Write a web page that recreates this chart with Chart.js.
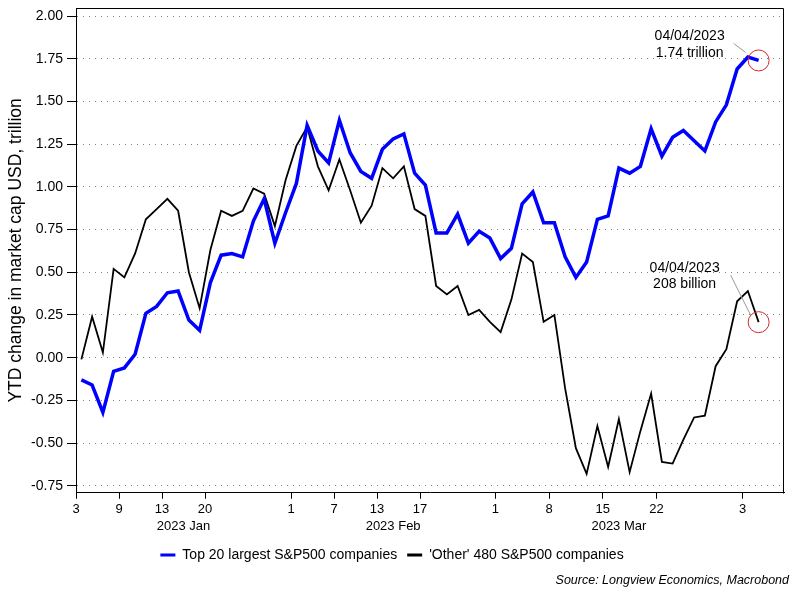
<!DOCTYPE html>
<html lang="en">
<head>
  <meta charset="UTF-8" />
  <title>Top 20 vs other S&P500 companies - YTD market cap change</title>
  <script src="https://cdn.jsdelivr.net/npm/chart.js"></script>
  <style>
    html, body { margin: 0; padding: 0; background: #fff; }
    #wrap { width: 800px; height: 600px; position: relative; }
  </style>
</head>
<body>
<div id="wrap"><canvas id="capChart"></canvas></div>

<script>
  // Trading days, 3 Jan - 4 Apr 2023
  const tradingDays = [
    '2023-01-03','2023-01-04','2023-01-05','2023-01-06','2023-01-09','2023-01-10','2023-01-11','2023-01-12',
    '2023-01-13','2023-01-17','2023-01-18','2023-01-19','2023-01-20','2023-01-23','2023-01-24','2023-01-25',
    '2023-01-26','2023-01-27','2023-01-30','2023-01-31',
    '2023-02-01','2023-02-02','2023-02-03','2023-02-06','2023-02-07','2023-02-08','2023-02-09','2023-02-10',
    '2023-02-13','2023-02-14','2023-02-15','2023-02-16','2023-02-17','2023-02-21','2023-02-22','2023-02-23',
    '2023-02-24','2023-02-27','2023-02-28',
    '2023-03-01','2023-03-02','2023-03-03','2023-03-06','2023-03-07','2023-03-08','2023-03-09','2023-03-10',
    '2023-03-13','2023-03-14','2023-03-15','2023-03-16','2023-03-17','2023-03-20','2023-03-21','2023-03-22',
    '2023-03-23','2023-03-24','2023-03-27','2023-03-28','2023-03-29','2023-03-30','2023-03-31',
    '2023-04-03','2023-04-04'
  ];

  // YTD change in market cap, USD trillion
  const top20 = [
    -0.13, -0.16, -0.32, -0.08, -0.06, 0.02, 0.26, 0.30, 0.38, 0.39, 0.22, 0.16, 0.44, 0.60, 0.61, 0.59,
    0.80, 0.93, 0.67, 0.85, 1.02, 1.36, 1.21, 1.14, 1.39, 1.20, 1.09, 1.05, 1.22, 1.28, 1.31, 1.08,
    1.01, 0.73, 0.73, 0.84, 0.67, 0.74, 0.70, 0.58, 0.64, 0.90, 0.97, 0.79, 0.79, 0.59, 0.47, 0.56,
    0.81, 0.83, 1.11, 1.08, 1.12, 1.34, 1.18, 1.29, 1.33, 1.27, 1.21, 1.38, 1.48, 1.69, 1.76, 1.74
  ];
  const other480 = [
    -0.01, 0.24, 0.03, 0.52, 0.47, 0.61, 0.81, 0.87, 0.93, 0.86, 0.50, 0.29, 0.63, 0.86, 0.83, 0.86,
    0.99, 0.96, 0.77, 1.04, 1.24, 1.35, 1.12, 0.98, 1.16, 0.98, 0.79, 0.89, 1.11, 1.05, 1.12, 0.87,
    0.83, 0.42, 0.37, 0.42, 0.25, 0.28, 0.21, 0.15, 0.34, 0.61, 0.56, 0.21, 0.25, -0.18, -0.53, -0.68,
    -0.40, -0.64, -0.36, -0.67, -0.43, -0.21, -0.61, -0.62, -0.48, -0.35, -0.34, -0.05, 0.05, 0.33, 0.39, 0.208
  ];

  const seriesNames = ['Top 20 largest S&P500 companies', "'Other' 480 S&P500 companies"];

  // axis labels
  const yTicks = [-0.75, -0.5, -0.25, 0, 0.25, 0.5, 0.75, 1, 1.25, 1.5, 1.75, 2];
  const tickDates = ['2023-01-03','2023-01-09','2023-01-13','2023-01-20','2023-02-01','2023-02-07',
                     '2023-02-13','2023-02-17','2023-03-01','2023-03-08','2023-03-15','2023-03-22','2023-04-03'];
  const monthKeys = ['2023-01', '2023-02', '2023-03'];
  const monthLabels = ['2023 Jan', '2023 Feb', '2023 Mar'];

  const FONT = 'Arial, "Liberation Sans", sans-serif';
  Chart.defaults.font.family = FONT;
  Chart.defaults.color = '#000';

  // day index -> x value (points sit in the middle of their day)
  const tickIdx = tickDates.map(d => tradingDays.indexOf(d));
  const monthCenters = monthKeys.map(m => {
    const first = tradingDays.findIndex(d => d.startsWith(m));
    let last = first;
    while (last + 1 < tradingDays.length && tradingDays[last + 1].startsWith(m)) last++;
    return (first + last + 1) / 2;
  });
  const xMax = 65.86;
  const toPoints = arr => arr.map((v, i) => ({ x: i + 0.5, y: v }));

  function fmtDate(iso) {
    const [y, m, d] = iso.split('-');
    return d + '/' + m + '/' + y;
  }
  function fmtValue(v) {
    return v >= 1 ? v.toFixed(2) + ' trillion' : Math.round(v * 1000) + ' billion';
  }

  // red circle + label on last point of each line
  const callouts = [
    { dataset: 0, textDx: -69, textDy: [-24, -7.5], from: [-25, -17], to: [-13, -8] },
    { dataset: 1, textDx: -74, textDy: [-54.5, -38.5], from: [-28, -47], to: [-8, -7] }
  ];

  const calloutPlugin = {
    id: 'callouts',
    afterDatasetsDraw(chart) {
      const ctx = chart.ctx;
      callouts.forEach(c => {
        const meta = chart.getDatasetMeta(c.dataset);
        const pt = meta.data[meta.data.length - 1];
        const pts = chart.data.datasets[c.dataset].data;
        const lines = [fmtDate(tradingDays[pts.length - 1]), fmtValue(pts[pts.length - 1].y)];
        ctx.save();
        ctx.lineWidth = 1;
        ctx.strokeStyle = '#999';
        ctx.beginPath();
        ctx.moveTo(pt.x + c.from[0], pt.y + c.from[1]);
        ctx.lineTo(pt.x + c.to[0], pt.y + c.to[1]);
        ctx.stroke();
        ctx.strokeStyle = '#d7262b';
        ctx.beginPath();
        ctx.arc(pt.x, pt.y, 10.5, 0, Math.PI * 2);
        ctx.stroke();
        ctx.fillStyle = '#000';
        ctx.font = '14px ' + FONT;
        ctx.textAlign = 'center';
        ctx.textBaseline = 'middle';
        lines.forEach((t, k) => ctx.fillText(t, pt.x + c.textDx, pt.y + c.textDy[k]));
        ctx.restore();
      });
    }
  };

  // top and right edges of the plot box + source note
  const framePlugin = {
    id: 'frame',
    afterDraw(chart) {
      const { ctx, chartArea: a } = chart;
      const l = Math.round(a.left) + 0.5, t = Math.round(a.top) + 0.5;
      const r = Math.round(a.right) - 0.5, b = Math.round(a.bottom) + 0.5;
      ctx.save();
      ctx.strokeStyle = '#000';
      ctx.lineWidth = 1;
      ctx.beginPath();
      ctx.moveTo(l, t);
      ctx.lineTo(r, t);
      ctx.lineTo(r, b);
      ctx.stroke();
      ctx.fillStyle = '#000';
      ctx.font = 'italic 12.5px ' + FONT;
      ctx.textAlign = 'right';
      ctx.textBaseline = 'middle';
      ctx.fillText('Source: Longview Economics, Macrobond', chart.width - 11, 581);
      ctx.restore();
    }
  };

  const ctx = document.getElementById('capChart').getContext('2d');

  new Chart(ctx, {
    type: 'line',
    data: {
      datasets: [
        {
          label: seriesNames[0],
          data: toPoints(top20),
          borderColor: '#0000ff',
          backgroundColor: '#0000ff',
          borderWidth: 3.5,
          pointRadius: 0,
          tension: 0
        },
        {
          label: seriesNames[1],
          data: toPoints(other480),
          borderColor: '#000000',
          backgroundColor: '#000000',
          borderWidth: 1.8,
          pointRadius: 0,
          tension: 0
        }
      ]
    },
    options: {
      responsive: true,
      maintainAspectRatio: false,
      animation: false,
      layout: { padding: { top: 8, right: 16, bottom: 28, left: 0 } },
      plugins: {
        legend: {
          position: 'bottom',
          labels: {
            boxWidth: 15,
            boxHeight: 3,
            padding: 10,
            color: '#000',
            font: { size: 14 },
            generateLabels(chart) {
              const items = Chart.defaults.plugins.legend.labels.generateLabels(chart);
              items.forEach(it => { it.lineWidth = 0; });
              return items;
            }
          }
        },
        tooltip: { enabled: false }
      },
      scales: {
        x: {
          type: 'linear',
          min: 0,
          max: xMax,
          afterBuildTicks: s => { s.ticks = tickIdx.map(v => ({ value: v })); },
          afterFit: s => { s.height -= 2; },
          ticks: {
            callback: v => tickDates[tickIdx.indexOf(v)].slice(8).replace(/^0/, ''),
            autoSkip: false,
            maxRotation: 0,
            padding: 3,
            color: '#000',
            font: { size: 13 }
          },
          grid: { drawOnChartArea: false, tickLength: 6, tickColor: '#000' },
          border: { color: '#000', width: 1 }
        },
        month: {
          type: 'linear',
          position: 'bottom',
          weight: 1,
          min: 0,
          max: xMax,
          afterBuildTicks: s => { s.ticks = monthCenters.map(v => ({ value: v })); },
          afterFit: s => { s.height += 4; },
          ticks: {
            callback: v => monthLabels[monthCenters.indexOf(v)],
            autoSkip: false,
            maxRotation: 0,
            padding: 0,
            color: '#000',
            font: { size: 13 }
          },
          grid: { display: false, drawTicks: false },
          border: { display: false }
        },
        y: {
          min: -0.791,
          max: 2.047,
          afterBuildTicks: s => { s.ticks = yTicks.map(v => ({ value: v })); },
          afterFit: s => { s.width = 76; s.paddingTop = 0; s.paddingBottom = 0; },
          ticks: {
            callback: v => v.toFixed(2),
            padding: 4,
            color: '#000',
            font: { size: 14 }
          },
          grid: { color: '#808080', lineWidth: 1, tickLength: 9, tickColor: '#000' },
          border: { color: '#000', width: 1, dash: [1, 5] },
          title: {
            display: true,
            text: 'YTD change in market cap USD, trillion',
            color: '#000',
            font: { size: 17.5 },
            padding: { top: 5.5, bottom: 0 }
          }
        }
      }
    },
    plugins: [calloutPlugin, framePlugin]
  });
</script>
</body>
</html>
